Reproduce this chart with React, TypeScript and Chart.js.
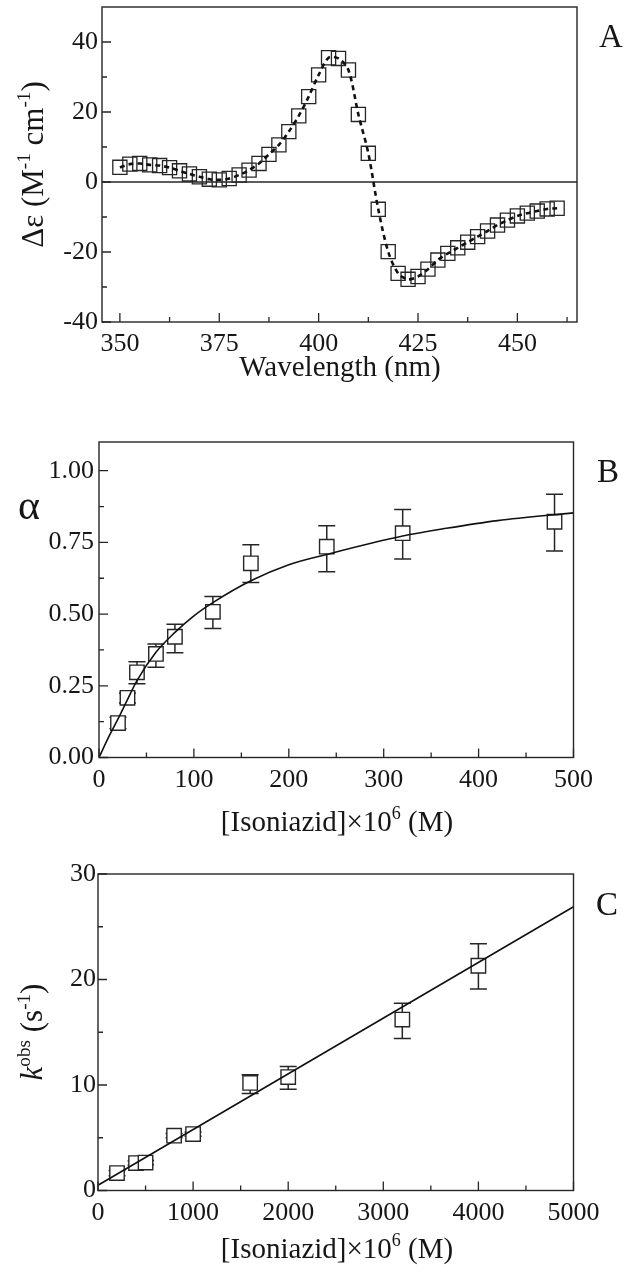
import React, { useEffect, useRef } from 'react';
import { Chart, registerables } from 'chart.js';

Chart.register(...registerables);

// ---------- Panel A data ----------
const wavelengths = [
  350, 352.5, 355, 357.5, 360, 362.5, 365, 367.5, 370, 372.5,
  375, 377.5, 380, 382.5, 385, 387.5, 390, 392.5, 395, 397.5,
  400, 402.5, 405, 407.5, 410, 412.5, 415, 417.5, 420, 422.5,
  425, 427.5, 430, 432.5, 435, 437.5, 440, 442.5, 445, 447.5,
  450, 452.5, 455, 457.5, 460,
];
const deltaEps = [
  4.2, 5.1, 5.3, 4.9, 4.7, 4.1, 3.2, 2.3, 1.5, 0.8,
  0.6, 1.0, 2.0, 3.4, 5.3, 7.9, 10.6, 14.4, 18.9, 24.4,
  30.6, 35.5, 35.3, 32.0, 19.3, 8.2, -7.8, -19.9, -26.1, -27.8,
  -27.0, -24.9, -22.3, -20.4, -18.8, -17.2, -15.6, -14.0, -12.3, -10.9,
  -9.7, -8.9, -8.3, -7.7, -7.5,
];
const aXTicks = [350, 375, 400, 425, 450];
const aYTicks = [-40, -20, 0, 20, 40];

// ---------- Panel B data ----------
const isoB = [20, 30, 40, 60, 80, 120, 160, 240, 320, 480];
const alphaB = [0.12, 0.208, 0.297, 0.361, 0.421, 0.508, 0.677, 0.735, 0.782, 0.822];
const alphaBHigh = [0.14, 0.225, 0.334, 0.396, 0.465, 0.561, 0.742, 0.808, 0.865, 0.918];
const alphaBLow = [0.1, 0.19, 0.257, 0.315, 0.365, 0.45, 0.61, 0.648, 0.692, 0.72];
const fitBX = [0, 11, 21, 30, 40, 60, 80, 100, 120, 160, 200, 240, 320, 366, 420, 500];
const fitBY = [0, 0.077, 0.141, 0.202, 0.268, 0.367, 0.436, 0.494, 0.54, 0.616, 0.672, 0.708, 0.772, 0.799, 0.826, 0.853];
const bXTicks = [0, 100, 200, 300, 400, 500];
const bYTicks = [0, 0.25, 0.5, 0.75, 1.0];

// ---------- Panel C data ----------
const isoC = [200, 400, 500, 800, 1000, 1600, 2000, 3200, 4000];
const kobsC = [1.65, 2.6, 2.65, 5.2, 5.35, 10.2, 10.75, 16.2, 21.3];
const kobsHigh = [1.9, 2.8, 2.85, 5.4, 5.55, 10.96, 11.75, 17.75, 23.4];
const kobsLow = [1.4, 2.4, 2.45, 5.0, 5.15, 9.2, 9.6, 14.4, 19.1];
const fitCX = [0, 5000];
const fitCY = [0.5, 26.9];
const cXTicks = [0, 1000, 2000, 3000, 4000, 5000];
const cYTicks = [0, 10, 20, 30];

// ---------- helpers ----------
const FONT = '"Liberation Serif", "Times New Roman", serif';
const INK = '#161616';
const LINE = '#262626';

type Run = { t: string; sup?: boolean; italic?: boolean };
type TextItem = { runs: Run[]; size: number; x: number; y: number; rotate?: boolean; align?: 'center' | 'left' };

function drawRuns(ctx: CanvasRenderingContext2D, it: TextItem) {
  const { runs, size, x, y, rotate, align } = it;
  ctx.save();
  ctx.translate(x, y);
  if (rotate) ctx.rotate(-Math.PI / 2);
  const fontOf = (r: Run) => `${r.italic ? 'italic ' : ''}${r.sup ? size * 0.62 : size}px ${FONT}`;
  let total = 0;
  const ws = runs.map((r) => {
    ctx.font = fontOf(r);
    const w = ctx.measureText(r.t).width;
    total += w;
    return w;
  });
  let xx = align === 'left' ? 0 : -total / 2;
  ctx.textBaseline = 'alphabetic';
  ctx.textAlign = 'left';
  ctx.fillStyle = INK;
  runs.forEach((r, i) => {
    ctx.font = fontOf(r);
    ctx.fillText(r.t, xx, r.sup ? -size * 0.4 : 0);
    xx += ws[i];
  });
  ctx.restore();
}

type Area = { left: number; right: number; top: number; bottom: number };
type PanelSpec = {
  height: number;
  area: Area;
  xMin: number; xMax: number; yMin: number; yMax: number;
  xTicks: number[]; yTicks: number[];
  yFmt: (v: number) => string;
  yPad: number; xPad: number;
  datasets: any[];
  zeroLine?: boolean;
  err?: { x: number[]; hi: number[]; lo: number[] };
  texts: TextItem[];
};

function minorValues(major: number[], min: number, max: number) {
  const step = major[1] - major[0];
  const out: number[] = [];
  for (let v = major[0] - step / 2; v < max - 1e-9; v += step) {
    if (v > min + 1e-9) out.push(v);
  }
  return out;
}

function buildConfig(p: PanelSpec): any {
  const W = 629;
  const tickFont = { family: FONT, size: 26 };
  const framePlugin = {
    id: 'frame',
    beforeDatasetsDraw(chart: any) {
      const { ctx, scales } = chart;
      const x = scales.x, y = scales.y;
      const a = chart.chartArea;
      ctx.save();
      ctx.strokeStyle = LINE;
      if (p.zeroLine) {
        ctx.lineWidth = 1.3;
        const py = y.getPixelForValue(0);
        ctx.beginPath();
        ctx.moveTo(a.left, py);
        ctx.lineTo(a.right, py);
        ctx.stroke();
      }
      if (p.err) {
        ctx.lineWidth = 1.5;
        const cap = 8.5;
        p.err.x.forEach((xv, i) => {
          const px = x.getPixelForValue(xv);
          const ph = y.getPixelForValue(p.err!.hi[i]);
          const pl = y.getPixelForValue(p.err!.lo[i]);
          ctx.beginPath();
          ctx.moveTo(px, ph); ctx.lineTo(px, pl);
          ctx.moveTo(px - cap, ph); ctx.lineTo(px + cap, ph);
          ctx.moveTo(px - cap, pl); ctx.lineTo(px + cap, pl);
          ctx.stroke();
        });
      }
      ctx.restore();
    },
    afterDraw(chart: any) {
      const { ctx, scales } = chart;
      const x = scales.x, y = scales.y;
      const a = chart.chartArea;
      ctx.save();
      ctx.strokeStyle = LINE;
      ctx.lineWidth = 1.4;
      ctx.strokeRect(a.left, a.top, a.right - a.left, a.bottom - a.top);
      ctx.lineWidth = 1.3;
      ctx.beginPath();
      const majLen = 9, minLen = 5;
      p.xTicks.forEach((v) => {
        const px = x.getPixelForValue(v);
        ctx.moveTo(px, a.bottom); ctx.lineTo(px, a.bottom - majLen);
      });
      minorValues(p.xTicks, p.xMin, p.xMax).forEach((v) => {
        const px = x.getPixelForValue(v);
        ctx.moveTo(px, a.bottom); ctx.lineTo(px, a.bottom - minLen);
      });
      p.yTicks.forEach((v) => {
        const py = y.getPixelForValue(v);
        ctx.moveTo(a.left, py); ctx.lineTo(a.left + majLen, py);
      });
      minorValues(p.yTicks, p.yMin, p.yMax).forEach((v) => {
        const py = y.getPixelForValue(v);
        ctx.moveTo(a.left, py); ctx.lineTo(a.left + minLen, py);
      });
      ctx.stroke();
      ctx.restore();
      p.texts.forEach((t) => drawRuns(ctx, t));
    },
  };
  return {
    type: 'scatter',
    data: { datasets: p.datasets },
    options: {
      responsive: false,
      animation: false,
      devicePixelRatio: 1,
      events: [],
      layout: {
        autoPadding: false,
        padding: { left: 0, right: W - p.area.right, top: p.area.top, bottom: 0 },
      },
      plugins: { legend: { display: false }, tooltip: { enabled: false } },
      scales: {
        x: {
          type: 'linear',
          min: p.xMin,
          max: p.xMax,
          grid: { display: false, drawTicks: false },
          border: { display: false },
          ticks: { font: tickFont, color: INK, padding: p.xPad, maxRotation: 0, autoSkip: false, callback: (v: number) => String(v) },
          afterBuildTicks: (s: any) => { s.ticks = p.xTicks.map((v) => ({ value: v })); },
          afterFit: (s: any) => { s.height = p.height - p.area.bottom; s.paddingLeft = 0; s.paddingRight = 0; },
        },
        y: {
          type: 'linear',
          min: p.yMin,
          max: p.yMax,
          grid: { display: false, drawTicks: false },
          border: { display: false },
          ticks: { font: tickFont, color: INK, padding: p.yPad, autoSkip: false, callback: (v: number) => p.yFmt(v) },
          afterBuildTicks: (s: any) => { s.ticks = p.yTicks.map((v) => ({ value: v })); },
          afterFit: (s: any) => { s.width = p.area.left; s.paddingTop = 0; s.paddingBottom = 0; },
        },
      },
    },
    plugins: [framePlugin],
  };
}

const pts = (xs: number[], ys: number[]) => xs.map((x, i) => ({ x, y: ys[i] }));

const panelA: PanelSpec = {
  height: 400,
  area: { left: 102, right: 577, top: 7, bottom: 322 },
  xMin: 345.5, xMax: 465, yMin: -40, yMax: 50,
  xTicks: aXTicks, yTicks: aYTicks,
  yFmt: (v) => String(v),
  yPad: 4, xPad: 7,
  zeroLine: true,
  datasets: [
    {
      data: pts(wavelengths, deltaEps), showLine: true, borderColor: '#111', borderWidth: 2.6,
      borderDash: [5, 4], pointRadius: 0, tension: 0.3, fill: false,
    },
    {
      data: pts(wavelengths, deltaEps), showLine: false, pointStyle: 'rect', pointRadius: 10,
      backgroundColor: 'rgba(0,0,0,0)', borderColor: LINE, borderWidth: 1.3,
    },
  ],
  texts: [
    { runs: [{ t: 'Δε (M' }, { t: '-1', sup: true }, { t: ' cm' }, { t: '-1', sup: true }, { t: ')' }], size: 31, x: 42.5, y: 164.5, rotate: true },
    { runs: [{ t: 'Wavelength (nm)' }], size: 29, x: 340, y: 376 },
    { runs: [{ t: 'A' }], size: 33, x: 599, y: 47, align: 'left' },
  ],
};

const panelB: PanelSpec = {
  height: 440,
  area: { left: 99, right: 573.5, top: 42, bottom: 357.5 },
  xMin: 0, xMax: 500, yMin: 0, yMax: 1.1,
  xTicks: bXTicks, yTicks: bYTicks,
  yFmt: (v) => v.toFixed(2),
  yPad: 5, xPad: 7,
  err: { x: isoB, hi: alphaBHigh, lo: alphaBLow },
  datasets: [
    {
      data: pts(fitBX, fitBY), showLine: true, borderColor: '#111', borderWidth: 1.6,
      pointRadius: 0, cubicInterpolationMode: 'monotone', fill: false,
    },
    {
      data: pts(isoB, alphaB), showLine: false, pointStyle: 'rect', pointRadius: 10.2,
      backgroundColor: '#ffffff', borderColor: LINE, borderWidth: 1.4,
    },
  ],
  texts: [
    { runs: [{ t: 'α' }], size: 42, x: 29, y: 119 },
    { runs: [{ t: '[Isoniazid]×10' }, { t: '6', sup: true }, { t: ' (M)' }], size: 29, x: 337, y: 431 },
    { runs: [{ t: 'B' }], size: 33, x: 597, y: 82, align: 'left' },
  ],
};

const panelC: PanelSpec = {
  height: 435,
  area: { left: 98, right: 573.5, top: 34, bottom: 350.5 },
  xMin: 0, xMax: 5000, yMin: 0, yMax: 30,
  xTicks: cXTicks, yTicks: cYTicks,
  yFmt: (v) => String(v),
  yPad: 2, xPad: 7,
  err: { x: isoC, hi: kobsHigh, lo: kobsLow },
  datasets: [
    {
      data: pts(fitCX, fitCY), showLine: true, borderColor: '#111', borderWidth: 1.6,
      pointRadius: 0, fill: false,
    },
    {
      data: pts(isoC, kobsC), showLine: false, pointStyle: 'rect', pointRadius: 10.2,
      backgroundColor: '#ffffff', borderColor: LINE, borderWidth: 1.4,
    },
  ],
  texts: [
    { runs: [{ t: 'k', italic: true }, { t: 'obs', sup: true }, { t: ' (s' }, { t: '-1', sup: true }, { t: ')' }], size: 31, x: 42, y: 192, rotate: true },
    { runs: [{ t: '[Isoniazid]×10' }, { t: '6', sup: true }, { t: ' (M)' }], size: 29, x: 337, y: 418 },
    { runs: [{ t: 'C' }], size: 33, x: 596, y: 75, align: 'left' },
  ],
};

function Panel({ top, spec }: { top: number; spec: PanelSpec }) {
  const ref = useRef<HTMLCanvasElement>(null);
  useEffect(() => {
    const chart = new Chart(ref.current as HTMLCanvasElement, buildConfig(spec));
    return () => chart.destroy();
  }, [spec]);
  return (
    <div style={{ position: 'absolute', left: 0, top, width: 629, height: spec.height }}>
      <canvas ref={ref} width={629} height={spec.height} style={{ display: 'block', width: 629, height: spec.height }} />
    </div>
  );
}

export default function App() {
  return (
    <div style={{ position: 'absolute', left: 0, top: 0, width: 629, height: 1275, background: '#fff' }}>
      <Panel top={0} spec={panelA} />
      <Panel top={400} spec={panelB} />
      <Panel top={840} spec={panelC} />
    </div>
  );
}
